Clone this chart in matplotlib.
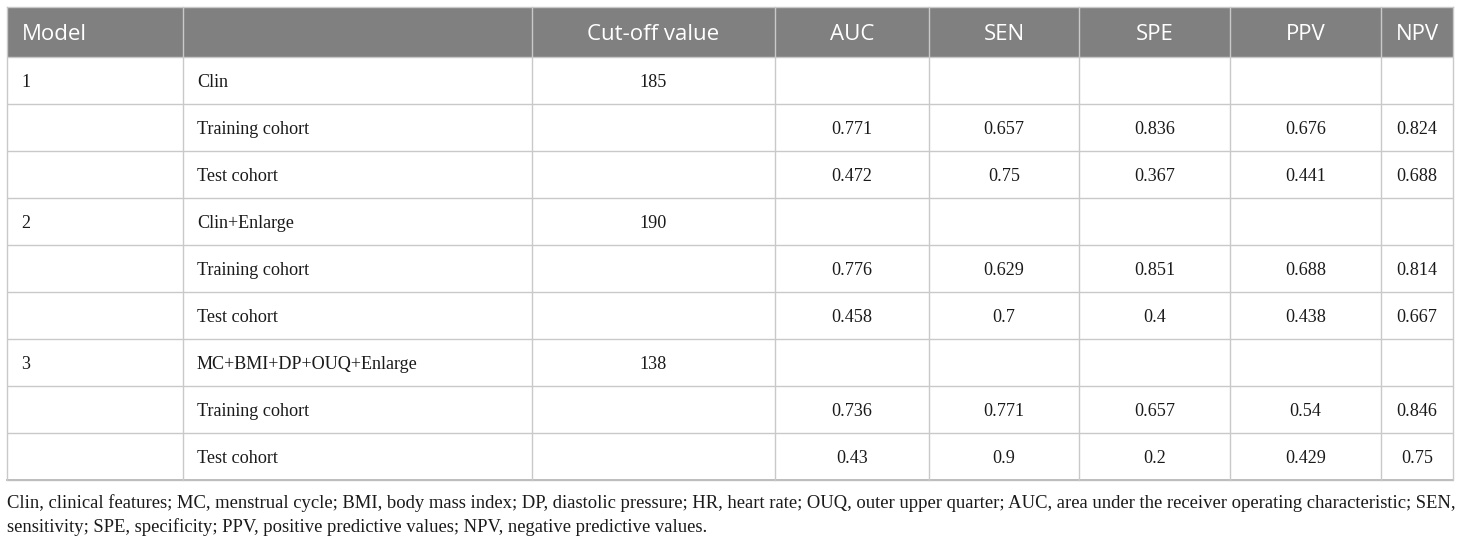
import matplotlib
matplotlib.use("Agg")
import matplotlib.pyplot as plt

headers = ["Model", "", "Cut-off value", "AUC", "SEN", "SPE", "PPV", "NPV"]
models = ["1", "", "", "2", "", "", "3", "", ""]
names = ["Clin", "Training cohort", "Test cohort",
         "Clin+Enlarge", "Training cohort", "Test cohort",
         "MC+BMI+DP+OUQ+Enlarge", "Training cohort", "Test cohort"]
cutoff = ["185", "", "", "190", "", "", "138", "", ""]
auc = ["", "0.771", "0.472", "", "0.776", "0.458", "", "0.736", "0.43"]
sen = ["", "0.657", "0.75", "", "0.629", "0.7", "", "0.771", "0.9"]
spe = ["", "0.836", "0.367", "", "0.851", "0.4", "", "0.657", "0.2"]
ppv = ["", "0.676", "0.441", "", "0.688", "0.438", "", "0.54", "0.429"]
npv = ["", "0.824", "0.688", "", "0.814", "0.667", "", "0.846", "0.75"]
caption = ["Clin, clinical features; MC, menstrual cycle; BMI, body mass index; DP, diastolic pressure; HR, heart rate; OUQ, outer upper quarter; AUC, area under the receiver operating characteristic; SEN,",
           "sensitivity; SPE, specificity; PPV, positive predictive values; NPV, negative predictive values."]

W, H = 1460, 541
fig = plt.figure(figsize=(W / 100, H / 100), dpi=100)
ax = fig.add_axes([0, 0, 1, 1])
ax.set_xlim(0, W)
ax.set_ylim(H, 0)
ax.axis("off")

cols = [7, 183, 532, 775, 929, 1079, 1230, 1381, 1453]
top = 7
head_h = 50
row_h = 47
nrows = len(names)
bottom = top + head_h + nrows * row_h

grid_c = "#c9c9c9"
head_bg = "#808080"
txt_c = "#1a1a1a"

# header background
ax.add_patch(plt.Rectangle((cols[0], top), cols[-1] - cols[0], head_h,
                           facecolor=head_bg, edgecolor="none", zorder=1))

# horizontal lines
ys = [top + head_h + i * row_h for i in range(nrows + 1)]
for y in ys:
    ax.plot([cols[0], cols[-1]], [y, y], color=grid_c, lw=1.0, zorder=2,
            solid_capstyle="butt")
ax.plot([cols[0], cols[-1]], [top, top], color=grid_c, lw=1.0, zorder=2)
ax.plot([cols[0], cols[-1]], [bottom, bottom], color="#bdbdbd", lw=1.4, zorder=2)

# vertical lines
for x in cols:
    ax.plot([x, x], [top, bottom], color=grid_c, lw=1.0, zorder=2)

# header text
hy = top + head_h / 2
for j, h in enumerate(headers):
    if not h:
        continue
    if j == 0:
        ax.text(cols[0] + 15, hy, h, ha="left", va="center_baseline",
                fontsize=16, family="Open Sans", color="white", zorder=3)
    else:
        ax.text((cols[j] + cols[j + 1]) / 2, hy, h, ha="center",
                va="center_baseline", fontsize=16, family="Open Sans",
                color="white", zorder=3)

# body text
body_cols = [models, names, cutoff, auc, sen, spe, ppv, npv]
for i in range(nrows):
    cy = top + head_h + i * row_h + row_h / 2
    for j, col in enumerate(body_cols):
        v = col[i]
        if not v:
            continue
        if j < 2:
            ax.text(cols[j] + 14, cy, v, ha="left", va="center_baseline",
                    fontsize=13.1, family="Liberation Serif", color=txt_c, zorder=3)
        else:
            ax.text((cols[j] + cols[j + 1]) / 2, cy, v, ha="center",
                    va="center_baseline", fontsize=13.1, family="Liberation Serif",
                    color=txt_c, zorder=3)

# caption
for k, line in enumerate(caption):
    ax.text(cols[0], 501 + k * 24, line, ha="left", va="center_baseline",
            fontsize=13.4, family="Liberation Serif", color=txt_c)

fig.savefig("out.png", dpi=100)
